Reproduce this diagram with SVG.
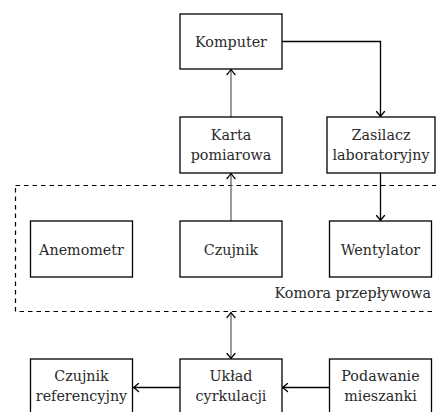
<svg xmlns="http://www.w3.org/2000/svg" width="436" height="412" viewBox="0 0 436 412">
<defs>
<style>
.box{fill:#fff;stroke:#000;stroke-width:1.3}
.t{font-family:'DejaVu Serif',serif;font-size:14.3px;fill:#2a2a2a;text-anchor:middle}
.c{fill:none;stroke:#000;stroke-width:1.3}
.g{stroke:#666}
.d{fill:none;stroke:#000;stroke-width:1.2;stroke-dasharray:4.5 4}
</style>
<marker id="ah" viewBox="-6 -5 8 10" refX="0" refY="0" markerWidth="8" markerHeight="10" markerUnits="userSpaceOnUse" orient="auto-start-reverse">
<path d="M-5,-4 Q-1.5,-1 0,0 Q-1.5,1 -5,4" fill="none" stroke="#000" stroke-width="1.3" stroke-linecap="round"/>
</marker>
</defs>
<rect class="d" x="15.5" y="185.5" width="430" height="126"/>
<text class="t" x="431" y="297.5" text-anchor="end" style="text-anchor:end">Komora przepływowa</text>
<g id="connectors">
<path class="c" d="M282,41.5 H380.5 V116.5" marker-end="url(#ah)"/>
<path class="c" d="M380.5,173 V220.5" marker-end="url(#ah)"/>
<path class="c g" d="M231,221 V173.5" marker-end="url(#ah)"/>
<path class="c g" d="M231,117 V69.5" marker-end="url(#ah)"/>
<path class="c g" d="M231,312.5 V358.5" marker-start="url(#ah)" marker-end="url(#ah)"/>
<path class="c" d="M180,387.5 H133.5" marker-end="url(#ah)"/>
<path class="c" d="M329,387.5 H282.5" marker-end="url(#ah)"/>
</g>
<g id="komputer"><rect class="box" x="180" y="14" width="102" height="55"/><text class="t" x="231" y="46.5">Komputer</text></g>
<g id="karta"><rect class="box" x="180" y="117" width="102" height="56"/><text class="t" x="231" y="139.5">Karta</text><text class="t" x="231" y="159.5">pomiarowa</text></g>
<g id="zasilacz"><rect class="box" x="327" y="117" width="108" height="56"/><text class="t" x="381" y="139.5">Zasilacz</text><text class="t" x="381" y="159.5">laboratoryjny</text></g>
<g id="anemometr"><rect class="box" x="30.5" y="221" width="102" height="56"/><text class="t" x="81.5" y="254.5">Anemometr</text></g>
<g id="czujnik"><rect class="box" x="180" y="221" width="102" height="56"/><text class="t" x="231" y="254.5">Czujnik</text></g>
<g id="wentylator"><rect class="box" x="329.5" y="221" width="102" height="56"/><text class="t" x="380.5" y="254.5">Wentylator</text></g>
<g id="czujnik-ref"><rect class="box" x="30.5" y="359" width="102" height="60"/><text class="t" x="81.5" y="381">Czujnik</text><text class="t" x="81.5" y="401">referencyjny</text></g>
<g id="uklad"><rect class="box" x="180" y="359" width="102" height="60"/><text class="t" x="231" y="381">Układ</text><text class="t" x="231" y="401">cyrkulacji</text></g>
<g id="podawanie"><rect class="box" x="329.5" y="359" width="102" height="60"/><text class="t" x="380.5" y="381">Podawanie</text><text class="t" x="380.5" y="401">mieszanki</text></g>
</svg>
